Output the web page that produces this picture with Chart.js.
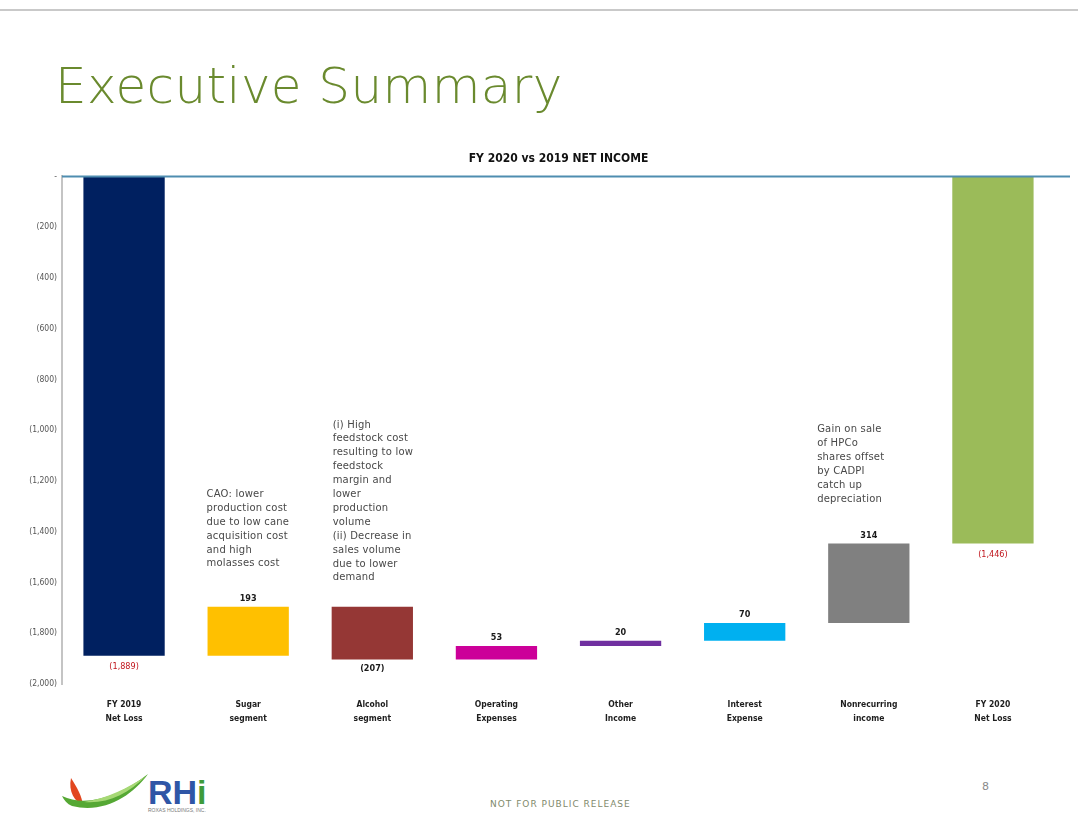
<!DOCTYPE html>
<html>
<head>
<meta charset="utf-8">
<title>Executive Summary</title>
<script src="https://cdn.jsdelivr.net/npm/chart.js@4.4.1/dist/chart.umd.min.js"></script>
<style>
    html, body { margin: 0; padding: 0; background: #fff; }
    body {
        width: 1078px; height: 816px; position: relative; overflow: hidden;
        font-family: 'DejaVu Sans', sans-serif;
    }
    .top-rule { position: absolute; left: 0; top: 9px; width: 1078px; height: 2px; background: #c9c9c9; }
    h1 {
        position: absolute; left: 55px; top: 57px; margin: 0;
        font-family: 'DejaVu Sans', sans-serif; font-weight: 200; font-size: 50px;
        color: #6a8a2e; letter-spacing: 0.4px; white-space: nowrap;
    }
    .chart-box { position: absolute; left: 0; top: 140px; width: 1078px; height: 600px; }
    .release { position: absolute; left: 490px; top: 799px; font-size: 9px; color: #7f8a6c; letter-spacing: 1px; }
    .page-no { position: absolute; left: 982px; top: 780px; font-size: 11px; color: #8a8a8a; }
    .logo { position: absolute; left: 58px; top: 764px; }
</style>
</head>
<body>
<div class="top-rule"></div>
<h1>Executive Summary</h1>

<div class="chart-box"><canvas id="netIncomeChart"></canvas></div>

<svg class="logo" width="160" height="50" viewBox="0 0 160 50">
    <!-- flame -->
    <path d="M13 14 C19 24 24 31 25 42 C17 37 10 28 13 14 Z" fill="#e2471f"/>
    <!-- leaf swoosh -->
    <path d="M4 32 C28 44 62 32 90 10 C74 32 46 50 14 42 C9 40 6 36 4 32 Z" fill="#55a834"/>
    <path d="M26 38 C50 34 70 24 88 12 C70 30 50 40 26 38 Z" fill="#a6d875"/>
    <text x="90" y="40" font-family="Liberation Sans, Arial, sans-serif" font-weight="bold" font-size="34" fill="#2f56a6">RH<tspan fill="#3e9b3a">i</tspan></text>
    <text x="90" y="48" font-family="Liberation Sans, Arial, sans-serif" font-size="5" fill="#7a7a7a">ROXAS HOLDINGS, INC.</text>
</svg>
<div class="release">NOT FOR PUBLIC RELEASE</div>
<div class="page-no">8</div>

<script>
    // Net income bridge, FY 2019 -> FY 2020 (PHP millions)
    const categories = [
        ['FY 2019', 'Net Loss'],
        ['Sugar', 'segment'],
        ['Alcohol', 'segment'],
        ['Operating', 'Expenses'],
        ['Other', 'Income'],
        ['Interest', 'Expense'],
        ['Nonrecurring', 'income'],
        ['FY 2020', 'Net Loss']
    ];
    const changes = [-1889, 193, -207, 53, 20, 70, 314, -1446];
    const isTotal = [true, false, false, false, false, false, false, true];
    const barColors = ['#002060', '#ffc000', '#953735', '#cc0099', '#7030a0', '#00b0f0', '#808080', '#9bbb59'];

    const yTickValues = [0, -200, -400, -600, -800, -1000, -1200, -1400, -1600, -1800, -2000];
    const yTickLabels = ['-', '(200)', '(400)', '(600)', '(800)', '(1,000)', '(1,200)', '(1,400)', '(1,600)', '(1,800)', '(2,000)'];

    const notes = [
        null,
        ['CAO: lower', 'production cost', 'due to low cane', 'acquisition cost', 'and high', 'molasses cost'],
        ['(i) High', 'feedstock cost', 'resulting to low', 'feedstock', 'margin and', 'lower', 'production', 'volume', '(ii) Decrease in', 'sales volume', 'due to lower', 'demand'],
        null, null, null,
        ['Gain on sale', 'of HPCo', 'shares offset', 'by CADPI', 'catch up', 'depreciation'],
        null
    ];

    // floating [start, end] pairs for the waterfall
    function buildRanges() {
        let running = 0;
        return changes.map(function(v, i) {
            if (isTotal[i]) {
                running = v;
                return [0, v];
            }
            const start = running;
            running += v;
            return [start, running];
        });
    }

    function fmt(v) {
        const s = Math.abs(v).toLocaleString('en-US');
        return v < 0 ? '(' + s + ')' : s;
    }

    // value labels above/below each bar
    const valueLabels = {
        id: 'valueLabels',
        afterDatasetsDraw(chart) {
            const ctx = chart.ctx;
            const meta = chart.getDatasetMeta(0);
            ctx.save();
            ctx.textAlign = 'center';
            ctx.textBaseline = 'middle';
            meta.data.forEach(function(bar, i) {
                const top = Math.min(bar.y, bar.base);
                const bottom = Math.max(bar.y, bar.base);
                const v = changes[i];
                ctx.font = isTotal[i] ? '9px "DejaVu Sans Condensed"' : 'bold 9px "DejaVu Sans Condensed"';
                ctx.fillStyle = isTotal[i] ? '#c0141c' : '#1a1a1a';
                if (v < 0) {
                    ctx.fillText(fmt(v), bar.x, bottom + (isTotal[i] ? 11 : 9));
                } else {
                    ctx.fillText(fmt(v), bar.x, top - 8);
                }
            });
            ctx.restore();
        }
    };

    // commentary text blocks sitting above the segment bars
    const noteOffsets = { 1: { dx: -1, gap: 43 }, 2: { dx: 1, gap: 29 }, 6: { dx: -11, gap: 44 } };
    const noteText = {
        id: 'noteText',
        afterDatasetsDraw(chart) {
            const ctx = chart.ctx;
            const meta = chart.getDatasetMeta(0);
            ctx.save();
            ctx.font = '10px "DejaVu Sans"';
            ctx.letterSpacing = '0.2px';
            ctx.fillStyle = '#484848';
            ctx.textAlign = 'left';
            ctx.textBaseline = 'middle';
            const lineH = 13.9;
            notes.forEach(function(lines, i) {
                if (!lines) return;
                const bar = meta.data[i];
                const off = noteOffsets[i];
                const left = bar.x - bar.width / 2 + off.dx;
                const lastY = Math.min(bar.y, bar.base) - off.gap;
                lines.forEach(function(line, k) {
                    ctx.fillText(line, left, lastY - (lines.length - 1 - k) * lineH);
                });
            });
            ctx.restore();
        }
    };

    // horizontal axis line at zero, running slightly past the last bar
    const zeroLine = {
        id: 'zeroLine',
        afterDraw(chart) {
            const ctx = chart.ctx;
            const y = chart.scales.y.getPixelForValue(0);
            ctx.save();
            ctx.strokeStyle = '#4f8db0';
            ctx.lineWidth = 2;
            ctx.beginPath();
            ctx.moveTo(chart.chartArea.left, y);
            ctx.lineTo(chart.chartArea.right + 15, y);
            ctx.stroke();
            ctx.restore();
        }
    };

    const ctx = document.getElementById('netIncomeChart').getContext('2d');
    new Chart(ctx, {
        type: 'bar',
        data: {
            labels: categories,
            datasets: [{
                data: buildRanges(),
                backgroundColor: barColors,
                borderWidth: 0,
                borderSkipped: false,
                categoryPercentage: 1,
                barPercentage: 0.655
            }]
        },
        options: {
            responsive: true,
            maintainAspectRatio: false,
            animation: false,
            layout: { padding: { left: 0, right: 23, top: 0, bottom: 0 } },
            plugins: {
                legend: { display: false },
                tooltip: { enabled: false },
                title: {
                    display: true,
                    fullSize: false,
                    text: 'FY 2020 vs 2019 NET INCOME',
                    color: '#111',
                    font: { family: '"DejaVu Sans Condensed"', size: 12, weight: 'bold' },
                    padding: { top: 12, bottom: 10 }
                }
            },
            scales: {
                x: {
                    position: 'bottom',
                    grid: { display: false, drawTicks: false },
                    border: { display: false },
                    ticks: {
                        color: '#1e1e1e',
                        padding: 14,
                        font: { family: '"DejaVu Sans Condensed"', size: 8.5, weight: 'bold', lineHeight: 1.6 },
                        maxRotation: 0
                    },
                    afterFit: function(scale) { scale.height = 56; }
                },
                y: {
                    min: -2000,
                    max: 0,
                    afterBuildTicks: function(scale) {
                        scale.ticks = yTickValues.map(function(v) { return { value: v }; });
                    },
                    grid: { display: false, drawTicks: false },
                    border: { display: true, color: '#c4c4c4', width: 2 },
                    ticks: {
                        color: '#555',
                        padding: 5,
                        font: { family: '"DejaVu Sans Condensed"', size: 8.5 },
                        callback: function(value) {
                            return yTickLabels[yTickValues.indexOf(value)];
                        }
                    },
                    afterFit: function(scale) { scale.width = 62; }
                }
            }
        },
        plugins: [valueLabels, noteText, zeroLine]
    });
</script>
</body>
</html>
